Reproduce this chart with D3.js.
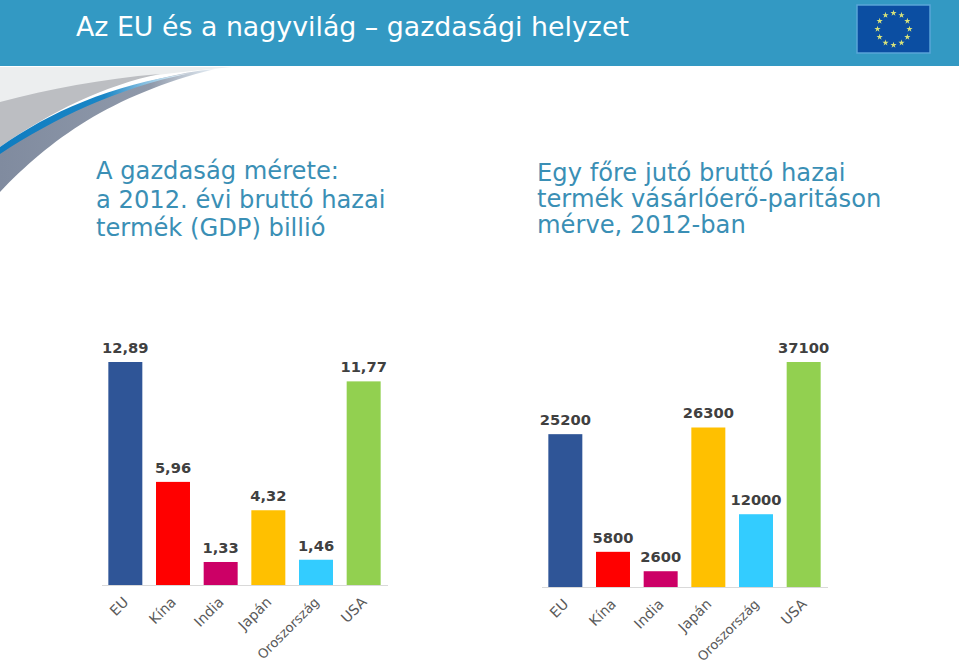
<!DOCTYPE html>
<html>
<head>
<meta charset="utf-8">
<script src="https://cdnjs.cloudflare.com/ajax/libs/d3/7.8.5/d3.min.js"></script>
<style>
html, body { margin: 0; padding: 0; background: #fff; overflow: hidden; }
svg { display: block; }
text { font-family: "DejaVu Sans", Verdana, sans-serif; }
</style>
</head>
<body>
<svg id="slide" width="959" height="663"></svg>
<script>
const countries = ["EU", "Kína", "India", "Japán", "Oroszország", "USA"];
const colors = ["#2f5597", "#ff0000", "#cc0066", "#ffc000", "#33ccff", "#92d050"];
const gdpValues = [12.89, 5.96, 1.33, 4.32, 1.46, 11.77];
const gdpLabels = ["12,89", "5,96", "1,33", "4,32", "1,46", "11,77"];
const pppValues = [25200, 5800, 2600, 26300, 12000, 37100];
const pppLabels = ["25200", "5800", "2600", "26300", "12000", "37100"];
const leftHeading = ["A gazdaság mérete:", "a 2012. évi bruttó hazai", "termék (GDP) billió"];
const rightHeading = ["Egy főre jutó bruttó hazai", "termék vásárlóerő-paritáson", "mérve, 2012-ban"];

const svg = d3.select("#slide");
const defs = svg.append("defs");

const fade = defs.append("linearGradient").attr("id", "blueFade")
  .attr("x1", 0).attr("x2", 1).attr("y1", 0).attr("y2", 0);
fade.append("stop").attr("offset", 0).attr("stop-color", "#0f7cc0");
fade.append("stop").attr("offset", 0.55).attr("stop-color", "#1a86c6");
fade.append("stop").attr("offset", 1).attr("stop-color", "#ffffff");

const greyFade = defs.append("linearGradient").attr("id", "greyFade")
  .attr("x1", 0).attr("x2", 1).attr("y1", 0).attr("y2", 0);
greyFade.append("stop").attr("offset", 0).attr("stop-color", "#808b9f");
greyFade.append("stop").attr("offset", 0.7).attr("stop-color", "#8f99aa");
greyFade.append("stop").attr("offset", 1).attr("stop-color", "#e6eff6");

// header band
svg.append("rect").attr("width", 959).attr("height", 66).attr("fill", "#3399c3");
svg.append("text").attr("x", 76).attr("y", 36)
  .attr("font-size", 26.8).attr("fill", "#fff")
  .text("Az EU és a nagyvilág – gazdasági helyzet");

// swoosh under the header
const swoosh = svg.append("g");
swoosh.append("path").attr("d", "M0,67 L232,67 C150,74 60,88 0,103 Z").attr("fill", "#eceeef");
swoosh.append("path").attr("d", "M0,192 C50,140 110,95 215,69 C140,76 60,110 0,150 Z").attr("fill", "url(#greyFade)");
swoosh.append("path").attr("d", "M0,102 C50,89 100,79 160,74 C105,85 50,112 0,147 Z").attr("fill", "#bcbec2");
swoosh.append("path").attr("d", "M0,147 C50,112 110,85 190,73 C115,89 55,118 0,154 Z").attr("fill", "url(#blueFade)");

// flag
const flag = svg.append("g").attr("transform", "translate(893.5,29)");
flag.append("rect").attr("x", -36.5).attr("y", -24).attr("width", 73).attr("height", 48)
  .attr("fill", "#0b4ea2").attr("stroke", "#5aa5d8").attr("stroke-width", 1.5);
const star = d3.symbol().type(d3.symbolStar).size(12);
flag.selectAll("path.star").data(d3.range(12)).enter().append("path")
  .attr("class", "star")
  .attr("d", star)
  .attr("fill", "#d8e27a")
  .attr("transform", d => {
    const a = d / 12 * 2 * Math.PI;
    return "translate(" + (16 * Math.sin(a)) + "," + (-16 * Math.cos(a)) + ")";
  });

function heading(lines, x, y, pitch) {
  svg.append("g").selectAll("text").data(lines).enter().append("text")
    .attr("x", x)
    .attr("y", (d, i) => y + i * pitch)
    .attr("font-size", 24.2)
    .attr("fill", "#3a8fb5")
    .text(d => d);
}
heading(leftHeading, 96, 179, 28.5);
heading(rightHeading, 537, 181, 26);

function barChart(values, labels, x0, x1, yBase, yTop) {
  const x = d3.scaleBand().domain(countries).range([x0, x1]).paddingInner(0.287).paddingOuter(0.1435);
  const y = d3.scaleLinear().domain([0, d3.max(values)]).range([yBase, yTop]);
  const g = svg.append("g");
  const rows = countries.map((c, i) => ({ c: c, v: values[i], label: labels[i], color: colors[i] }));

  g.selectAll("rect").data(rows).enter().append("rect")
    .attr("x", d => x(d.c))
    .attr("y", d => y(d.v))
    .attr("width", x.bandwidth())
    .attr("height", d => y(0) - y(d.v))
    .attr("fill", d => d.color);

  g.selectAll("text.value").data(rows).enter().append("text")
    .attr("class", "value")
    .attr("x", d => x(d.c) + x.bandwidth() / 2)
    .attr("y", d => y(d.v) - 9)
    .attr("text-anchor", "middle")
    .attr("font-size", 14.7)
    .attr("font-weight", "bold")
    .attr("fill", "#404040")
    .text(d => d.label);

  const axis = g.append("g").attr("transform", "translate(0," + yBase + ")")
    .call(d3.axisBottom(x).tickSize(0).tickPadding(0));
  axis.select(".domain").attr("stroke", "#d9d9d9").attr("stroke-width", 1);
  // the long label runs narrower in the original
  axis.selectAll(".tick text")
    .attr("font-size", d => d.length > 8 ? 13.1 : 14.2)
    .attr("fill", "#595959")
    .attr("text-anchor", "end")
    .attr("dy", 0)
    .attr("y", 0)
    .attr("transform", "translate(4,18) rotate(-45)");
}

barChart(gdpValues, gdpLabels, 101.5, 387.5, 585, 362);
barChart(pppValues, pppLabels, 541.5, 827.5, 587, 362);
</script>
</body>
</html>
